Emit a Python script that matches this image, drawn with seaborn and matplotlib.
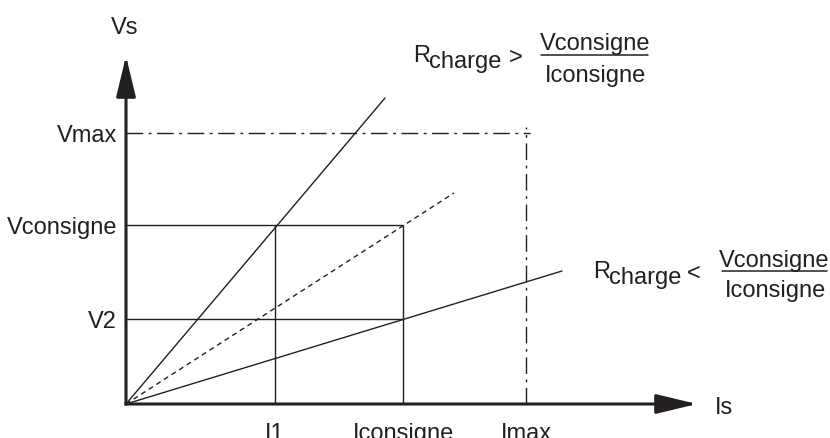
import numpy as np
import pandas as pd
import matplotlib
matplotlib.use('Agg')
import matplotlib.pyplot as plt
import seaborn as sns
from matplotlib.lines import Line2D

# Values (1 unit = 100 px)
I_labels = ['I1', 'Iconsigne', 'Imax']
I_vals = [1.49, 2.77, 4.00]
V_labels = ['V2', 'Vconsigne', 'Vmax']
V_vals = [0.85, 1.79, 2.71]

# load lines from the origin, end points
ray_names = ['forte', 'nominale', 'faible']
ray_end_I = [2.59, 3.28, 4.36]
ray_end_V = [3.06, 2.11, 1.33]

ink = '#231f20'
sns.set_style('white')
plt.rcParams['font.family'] = ['Liberation Sans', 'DejaVu Sans']
fs = 17

fig = plt.figure(figsize=(8.3, 4.39), dpi=100)
ax = fig.add_axes([126 / 830, 34 / 439, 704 / 830, 405 / 439])
ax.set_xlim(0, 7.04)
ax.set_ylim(0, 4.05)
for s in ax.spines.values():
    s.set_visible(False)

# load lines
rays = pd.DataFrame({
    'ray': [n for n in ray_names for _ in range(2)],
    'I': [v for e in ray_end_I for v in (0, e)],
    'V': [v for e in ray_end_V for v in (0, e)],
})
sns.lineplot(data=rays, x='I', y='V', style='ray', units='ray', estimator=None,
             sort=False, color=ink, lw=1.0, legend=False, ax=ax,
             dashes={'forte': '', 'nominale': (3.6, 2.9), 'faible': ''})

# guide lines
i1, ic, imax = I_vals
v2, vc, vmax = V_vals
ax.hlines([v2, vc], 0, ic, color=ink, lw=1.0)
ax.vlines([i1, ic], 0, vc, color=ink, lw=1.0)
ax.hlines(vmax, 0, imax + 0.04, color=ink, lw=1.0, linestyles=[(0, (12, 4, 2, 4))])
ax.vlines(imax, 0, vmax + 0.06, color=ink, lw=1.0, linestyles=[(0, (12, 4, 2, 4))])

# axes with arrows
arrow = dict(arrowstyle='-|>,head_length=2.5,head_width=0.6', mutation_scale=10,
             lw=2.2, color=ink, shrinkA=0, shrinkB=0, capstyle='projecting')
ax.annotate('', xy=(5.71, 0), xytext=(0, 0), arrowprops=arrow, annotation_clip=False)
ax.annotate('', xy=(0, 3.48), xytext=(0, 0), arrowprops=arrow, annotation_clip=False)

ax.set_xticks(I_vals, I_labels)
ax.set_yticks(V_vals, V_labels)
ax.tick_params(axis='x', length=0, pad=13, labelsize=fs, colors=ink)
ax.tick_params(axis='y', length=0, pad=6.5, labelsize=fs, colors=ink)
ax.set_xlabel('')
ax.set_ylabel('')


def P(x, y):
    return x / 830, 1 - y / 439


def txt(x, y, s, ha='left'):
    fig.text(*P(x, y), s, ha=ha, va='baseline', fontsize=fs, color=ink)


def bar(x0, x1, y):
    (a, b), (c, _) = P(x0, y), P(x1, y)
    fig.add_artist(Line2D([a, c], [b, b], color=ink, lw=1.1, transform=fig.transFigure))


txt(125, 34, 'Vs', ha='center')
txt(715, 414, 'Is')

# R charge > Vconsigne / Iconsigne
txt(413, 62, 'R')
txt(429, 68, 'charge')
txt(516, 64, '>', ha='center')
txt(595, 50, 'Vconsigne', ha='center')
bar(541, 648, 56)
txt(595, 82, 'Iconsigne', ha='center')

# R charge < Vconsigne / Iconsigne
txt(593, 278, 'R')
txt(609, 284, 'charge')
txt(694, 280, '<', ha='center')
txt(774, 267, 'Vconsigne', ha='center')
bar(722, 827, 272)
txt(775, 297, 'Iconsigne', ha='center')

fig.savefig('out.png', dpi=100)
